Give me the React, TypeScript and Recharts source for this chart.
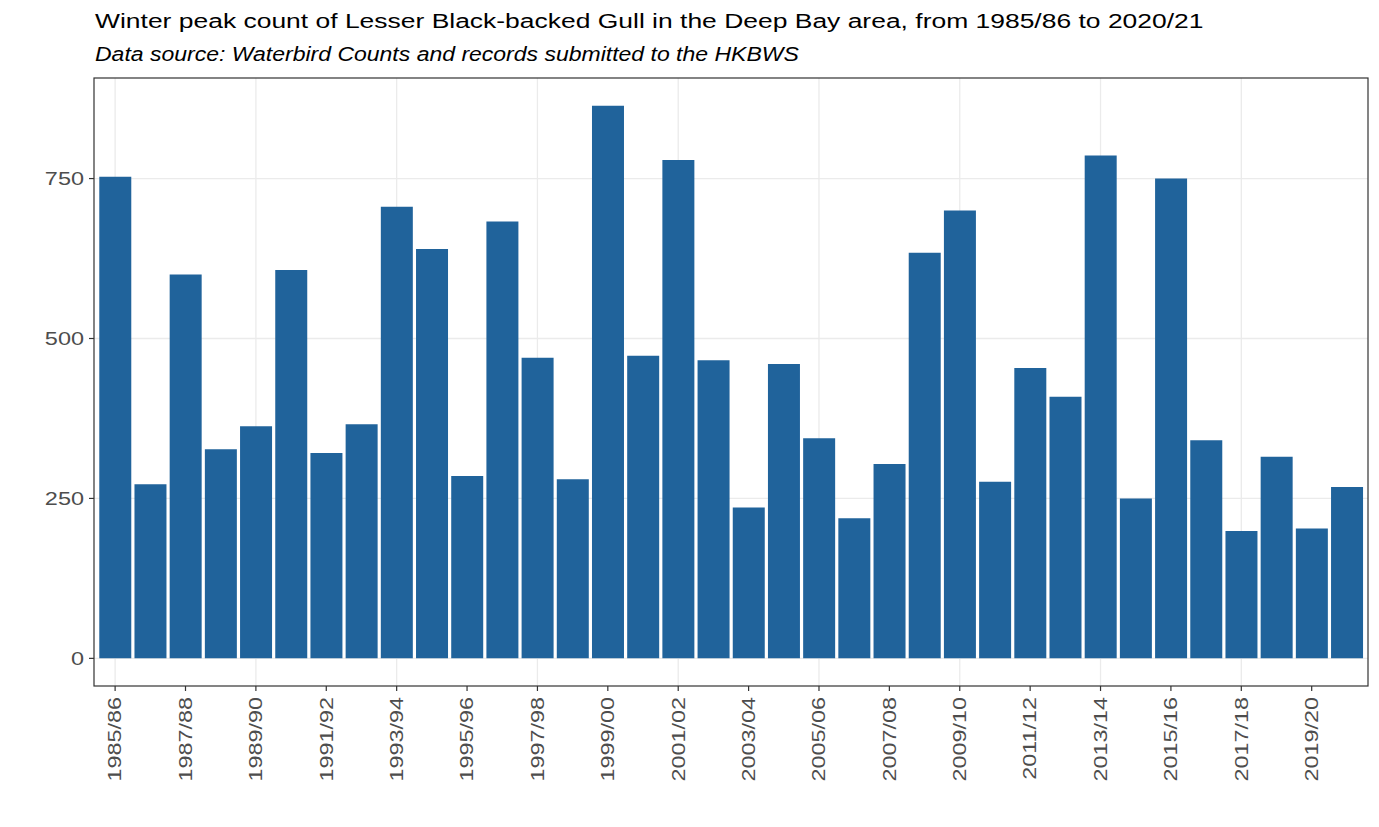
import { Bar, BarChart, CartesianGrid, XAxis, YAxis, usePlotArea } from 'recharts';

// Winter seasons, one bar each
const SEASONS = [
  '1985/86', '1986/87', '1987/88', '1988/89', '1989/90', '1990/91',
  '1991/92', '1992/93', '1993/94', '1994/95', '1995/96', '1996/97',
  '1997/98', '1998/99', '1999/00', '2000/01', '2001/02', '2002/03',
  '2003/04', '2004/05', '2005/06', '2006/07', '2007/08', '2008/09',
  '2009/10', '2010/11', '2011/12', '2012/13', '2013/14', '2014/15',
  '2015/16', '2016/17', '2017/18', '2018/19', '2019/20', '2020/21',
];

// Peak counts
const PEAK_COUNTS = [
  753, 272, 600, 327, 363, 607,
  321, 366, 706, 640, 285, 683,
  470, 280, 864, 473, 779, 466,
  236, 460, 344, 219, 304, 634,
  700, 276, 454, 409, 786, 250,
  750, 341, 199, 315, 203, 268,
];

const Y_TICKS = [0, 250, 500, 750];
const Y_MINOR = [125, 375, 625, 875];
// ggplot style 5% expansion around 0..max
const Y_DOMAIN = [-43.2, 907.2];

const TITLE =
  'Winter peak count of Lesser Black-backed Gull in the Deep Bay area, from 1985/86 to 2020/21';
const SUBTITLE = 'Data source: Waterbird Counts and records submitted to the HKBWS';

const FONT = '"Liberation Sans", Arial, sans-serif';
const BAR_COLOR = '#20639B';
const GRID_COLOR = '#EBEBEB';
const AXIS_TEXT = '#4D4D4D';

const chartData = SEASONS.map((season, i) => ({ season, count: PEAK_COUNTS[i] }));
const labelledSeasons = SEASONS.filter((_, i) => i % 2 === 0);

function XTick({ x, y, payload }: any) {
  return (
    <text
      transform={`translate(${x},${y}) rotate(-90) scale(1.3,1)`}
      textAnchor="end"
      dy="0.35em"
      fontFamily={FONT}
      fontSize={18}
      fill={AXIS_TEXT}
    >
      {payload.value}
    </text>
  );
}

function YTick({ x, y, payload }: any) {
  return (
    <text
      transform={`translate(${x},${y}) scale(1.27,1)`}
      textAnchor="end"
      dy="0.36em"
      fontFamily={FONT}
      fontSize={18.5}
      fill={AXIS_TEXT}
    >
      {payload.value}
    </text>
  );
}

// panel border drawn on top of the bars, like theme_bw
function PanelBorder() {
  const area = usePlotArea();
  if (!area) return null;
  return (
    <rect
      x={area.x}
      y={area.y}
      width={area.width}
      height={area.height}
      fill="none"
      stroke="#333333"
      strokeWidth={1.2}
    />
  );
}

export default function App() {
  return (
    <div
      style={{
        position: 'absolute',
        left: 0,
        top: 0,
        width: 1379,
        height: 827,
        background: '#ffffff',
      }}
    >
      <svg
        width={1379}
        height={75}
        style={{ position: 'absolute', left: 0, top: 0, pointerEvents: 'none' }}
      >
        <text
          transform="translate(95,28) scale(1.26,1)"
          fontFamily={FONT}
          fontSize={21}
          fill="#000000"
        >
          {TITLE}
        </text>
        <text
          transform="translate(95,61) scale(1.18,1)"
          fontFamily={FONT}
          fontStyle="italic"
          fontSize={19.5}
          fill="#000000"
        >
          {SUBTITLE}
        </text>
      </svg>
      <BarChart
        width={1379}
        height={827}
        data={chartData}
        margin={{ top: 78, right: 11, bottom: 41, left: 34 }}
        barCategoryGap="5%"
      >
        <CartesianGrid
          horizontalValues={[...Y_MINOR, ...Y_TICKS]}
          verticalValues={labelledSeasons}
          stroke={GRID_COLOR}
          strokeWidth={1.3}
        />
        <XAxis
          dataKey="season"
          interval={1}
          height={100}
          padding={{ left: 3.52, right: 3.52 }}
          axisLine={false}
          tickLine={{ stroke: '#333333', strokeWidth: 1.2 }}
          tickSize={5}
          tickMargin={6}
          tick={<XTick />}
        />
        <YAxis
          type="number"
          domain={Y_DOMAIN}
          ticks={Y_TICKS}
          allowDataOverflow
          width={60}
          axisLine={false}
          tickLine={{ stroke: '#333333', strokeWidth: 1.2 }}
          tickSize={5}
          tickMargin={5}
          tick={<YTick />}
        />
        <Bar dataKey="count" fill={BAR_COLOR} isAnimationActive={false} />
        <PanelBorder />
      </BarChart>
    </div>
  );
}
